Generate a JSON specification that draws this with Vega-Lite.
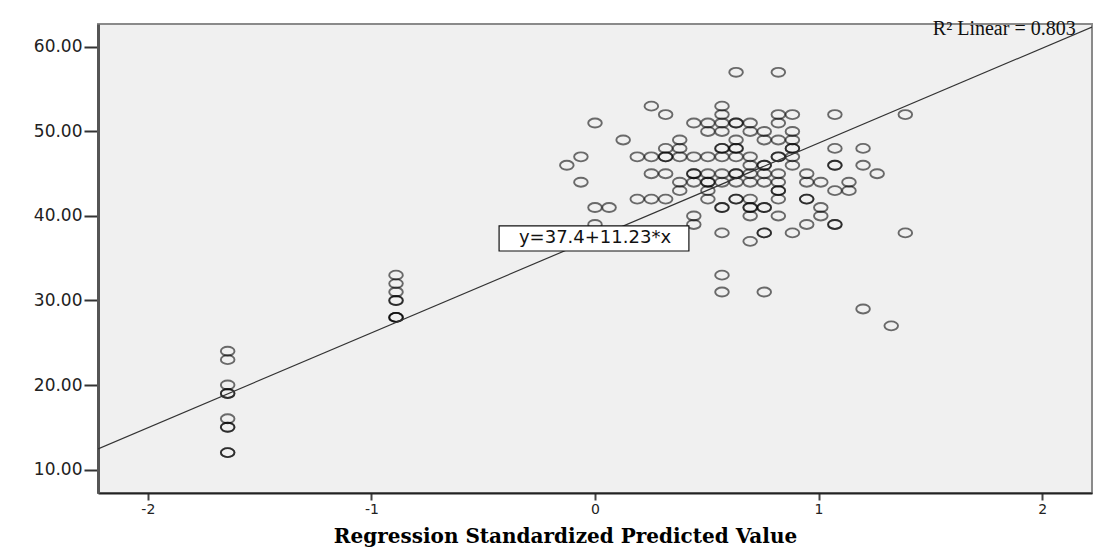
{
  "$schema": "https://vega.github.io/schema/vega-lite/v6.json",
  "width": 994,
  "height": 469,
  "autosize": {"type": "none"},
  "padding": {"left": 98, "top": 24, "right": 16, "bottom": 55},
  "background": "white",
  "config": {
    "view": {"fill": "#f0f0f0", "stroke": "#8a8a8a", "strokeWidth": 2}
  },
  "datasets": {
    "points": [
      {"x": -1.643, "y": 24}, {"x": -1.643, "y": 23}, {"x": -1.643, "y": 20}, {"x": -1.643, "y": 19}, {"x": -1.643, "y": 19},
      {"x": -1.643, "y": 16}, {"x": -1.643, "y": 15}, {"x": -1.643, "y": 15}, {"x": -1.643, "y": 12}, {"x": -1.643, "y": 12},
      {"x": -0.89, "y": 33}, {"x": -0.89, "y": 32}, {"x": -0.89, "y": 31}, {"x": -0.89, "y": 30}, {"x": -0.89, "y": 30},
      {"x": -0.89, "y": 28}, {"x": -0.89, "y": 28}, {"x": -0.89, "y": 28},
      {"x": 0.631, "y": 57}, {"x": 0.82, "y": 57},
      {"x": 0.252, "y": 53}, {"x": 0.568, "y": 53},
      {"x": 0.316, "y": 52}, {"x": 0.568, "y": 52}, {"x": 0.82, "y": 52}, {"x": 0.883, "y": 52}, {"x": 1.073, "y": 52}, {"x": 1.388, "y": 52},
      {"x": 0, "y": 51}, {"x": 0.442, "y": 51}, {"x": 0.505, "y": 51}, {"x": 0.568, "y": 51}, {"x": 0.631, "y": 51}, {"x": 0.631, "y": 51}, {"x": 0.694, "y": 51}, {"x": 0.82, "y": 51},
      {"x": 0.505, "y": 50}, {"x": 0.568, "y": 50}, {"x": 0.694, "y": 50}, {"x": 0.757, "y": 50}, {"x": 0.883, "y": 50},
      {"x": 0.126, "y": 49}, {"x": 0.379, "y": 49}, {"x": 0.631, "y": 49}, {"x": 0.757, "y": 49}, {"x": 0.82, "y": 49}, {"x": 0.883, "y": 49},
      {"x": 0.316, "y": 48}, {"x": 0.379, "y": 48}, {"x": 0.568, "y": 48}, {"x": 0.568, "y": 48}, {"x": 0.631, "y": 48}, {"x": 0.631, "y": 48}, {"x": 0.883, "y": 48}, {"x": 0.883, "y": 48}, {"x": 1.073, "y": 48}, {"x": 1.199, "y": 48},
      {"x": -0.063, "y": 47}, {"x": 0.189, "y": 47}, {"x": 0.252, "y": 47}, {"x": 0.316, "y": 47}, {"x": 0.316, "y": 47}, {"x": 0.379, "y": 47}, {"x": 0.442, "y": 47}, {"x": 0.505, "y": 47}, {"x": 0.568, "y": 47}, {"x": 0.631, "y": 47}, {"x": 0.694, "y": 47}, {"x": 0.82, "y": 47}, {"x": 0.82, "y": 47}, {"x": 0.883, "y": 47},
      {"x": -0.126, "y": 46}, {"x": 0.694, "y": 46}, {"x": 0.757, "y": 46}, {"x": 0.757, "y": 46}, {"x": 0.883, "y": 46}, {"x": 1.073, "y": 46}, {"x": 1.073, "y": 46}, {"x": 1.199, "y": 46},
      {"x": 0.252, "y": 45}, {"x": 0.316, "y": 45}, {"x": 0.442, "y": 45}, {"x": 0.442, "y": 45}, {"x": 0.505, "y": 45}, {"x": 0.568, "y": 45}, {"x": 0.631, "y": 45}, {"x": 0.631, "y": 45}, {"x": 0.694, "y": 45}, {"x": 0.757, "y": 45}, {"x": 0.82, "y": 45}, {"x": 0.947, "y": 45}, {"x": 1.262, "y": 45},
      {"x": -0.063, "y": 44}, {"x": 0.379, "y": 44}, {"x": 0.442, "y": 44}, {"x": 0.505, "y": 44}, {"x": 0.505, "y": 44}, {"x": 0.568, "y": 44}, {"x": 0.631, "y": 44}, {"x": 0.694, "y": 44}, {"x": 0.757, "y": 44}, {"x": 0.82, "y": 44}, {"x": 0.947, "y": 44}, {"x": 1.01, "y": 44}, {"x": 1.136, "y": 44},
      {"x": 0.379, "y": 43}, {"x": 0.505, "y": 43}, {"x": 0.82, "y": 43}, {"x": 0.82, "y": 43}, {"x": 1.073, "y": 43}, {"x": 1.136, "y": 43},
      {"x": 0.189, "y": 42}, {"x": 0.252, "y": 42}, {"x": 0.316, "y": 42}, {"x": 0.505, "y": 42}, {"x": 0.631, "y": 42}, {"x": 0.631, "y": 42}, {"x": 0.694, "y": 42}, {"x": 0.82, "y": 42}, {"x": 0.947, "y": 42}, {"x": 0.947, "y": 42},
      {"x": 0, "y": 41}, {"x": 0.063, "y": 41}, {"x": 0.568, "y": 41}, {"x": 0.568, "y": 41}, {"x": 0.694, "y": 41}, {"x": 0.694, "y": 41}, {"x": 0.757, "y": 41}, {"x": 0.757, "y": 41}, {"x": 1.01, "y": 41},
      {"x": 0.442, "y": 40}, {"x": 0.694, "y": 40}, {"x": 0.82, "y": 40}, {"x": 1.01, "y": 40},
      {"x": 0, "y": 39}, {"x": 0.442, "y": 39}, {"x": 0.947, "y": 39}, {"x": 1.073, "y": 39}, {"x": 1.073, "y": 39},
      {"x": 0.568, "y": 38}, {"x": 0.757, "y": 38}, {"x": 0.757, "y": 38}, {"x": 0.883, "y": 38}, {"x": 1.388, "y": 38},
      {"x": 0.694, "y": 37},
      {"x": 0.568, "y": 33},
      {"x": 0.568, "y": 31}, {"x": 0.757, "y": 31},
      {"x": 1.199, "y": 29},
      {"x": 1.325, "y": 27}
    ],
    "fit": [
      {"x": -2.223, "y": 12.44},
      {"x": 2.223, "y": 62.36}
    ],
    "equation": [{"text": "y=37.4+11.23*x"}],
    "rsq": [{"text": "R² Linear = 0.803"}]
  },
  "layer": [
    {
      "data": {"name": "points"},
      "mark": {
        "type": "point",
        "shape": "M -1 0 A 1 0.66 0 1 1 1 0 A 1 0.66 0 1 1 -1 0 Z",
        "size": 185,
        "filled": false,
        "stroke": "#000000",
        "strokeWidth": 1.9,
        "strokeOpacity": 0.8
      },
      "encoding": {
        "x": {
          "field": "x",
          "type": "quantitative",
          "scale": {"domain": [-2.223, 2.223], "nice": false, "zero": false},
          "axis": {
            "values": [-2, -1, 0, 1, 2],
            "format": "d",
            "grid": false,
            "labelExpr": "replace(datum.label, '−', '-')",
            "labelFont": "DejaVu Sans",
            "labelFontSize": 14,
            "labelColor": "#222222",
            "labelPadding": 2,
            "tickSize": 7,
            "tickWidth": 2,
            "tickColor": "#444444",
            "domainColor": "#222222",
            "domainWidth": 2,
            "title": "Regression Standardized Predicted Value",
            "titleFont": "DejaVu Serif",
            "titleFontWeight": "bold",
            "titleFontSize": 20,
            "titleColor": "#000000",
            "titleX": 467,
            "titleY": 49,
            "titleAlign": "center",
            "titleBaseline": "alphabetic"
          }
        },
        "y": {
          "field": "y",
          "type": "quantitative",
          "scale": {"domain": [7.22, 62.72], "nice": false, "zero": false},
          "axis": {
            "values": [10, 20, 30, 40, 50, 60],
            "format": ".2f",
            "grid": false,
            "title": null,
            "labelFont": "DejaVu Sans",
            "labelFontSize": 17,
            "labelColor": "#222222",
            "labelPadding": 2,
            "tickSize": 14,
            "tickWidth": 2,
            "tickColor": "#333333",
            "domainColor": "#555555",
            "domainWidth": 3
          }
        }
      }
    },
    {
      "data": {"name": "fit"},
      "mark": {"type": "line", "color": "#333333", "strokeWidth": 1.2, "clip": true},
      "encoding": {
        "x": {"field": "x", "type": "quantitative"},
        "y": {"field": "y", "type": "quantitative"}
      }
    },
    {
      "data": {"name": "equation"},
      "mark": {"type": "rect", "fill": "white", "stroke": "#111111", "strokeWidth": 1.2},
      "encoding": {
        "x": {"datum": -0.429, "type": "quantitative"},
        "x2": {"datum": 0.42},
        "y": {"datum": 38.82, "type": "quantitative"},
        "y2": {"datum": 35.86}
      }
    },
    {
      "data": {"name": "equation"},
      "mark": {"type": "text", "font": "DejaVu Sans", "fontSize": 18, "color": "#111111", "align": "center", "baseline": "middle"},
      "encoding": {
        "x": {"datum": 0, "type": "quantitative"},
        "y": {"datum": 37.4, "type": "quantitative"},
        "text": {"field": "text"}
      }
    },
    {
      "data": {"name": "rsq"},
      "mark": {"type": "text", "font": "Liberation Serif", "fontSize": 20, "color": "#111111", "align": "right", "baseline": "middle"},
      "encoding": {
        "x": {"datum": 2.15, "type": "quantitative"},
        "y": {"datum": 62.1, "type": "quantitative"},
        "text": {"field": "text"}
      }
    }
  ]
}
